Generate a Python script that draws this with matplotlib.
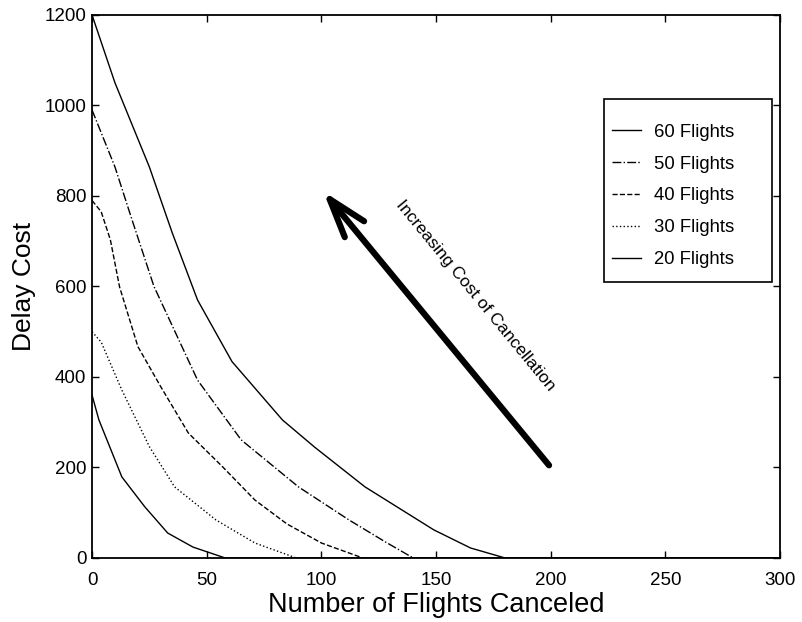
import matplotlib.pyplot as plt
from matplotlib.patches import Rectangle

plt.rcParams['font.family'] = ['Liberation Sans', 'DejaVu Sans']

# values
x60 = [0, 10, 25, 35, 46, 61, 83, 97, 119, 149, 165, 180, 300]
y60 = [1200, 1050, 864, 718, 570, 434, 305, 245, 157, 62, 22, 0, 0]

x50 = [0, 10, 17, 27, 46, 65, 90, 112, 128, 140, 300]
y50 = [990, 864, 754, 600, 393, 261, 157, 84, 35, 0, 0]

x40 = [0, 4, 8, 12, 20, 30, 42, 57, 71, 85, 100, 118, 300]
y40 = [790, 765, 703, 599, 467, 378, 276, 201, 128, 75, 33, 0, 0]

x30 = [0, 4, 13, 25, 36, 54, 71, 89, 300]
y30 = [500, 477, 371, 246, 157, 84, 33, 0, 0]

x20 = [0, 3, 13, 23, 33, 44, 58, 300]
y20 = [360, 305, 179, 113, 55, 24, 0, 0]

labels = ['60 Flights', '50 Flights', '40 Flights', '30 Flights', '20 Flights']
styles = ['-', '-.', '--', ':', '-']

fig = plt.figure(figsize=(8.03, 6.22), dpi=100)
ax = fig.add_axes([0.1146, 0.103, 0.857, 0.873])

series = [(x60, y60), (x50, y50), (x40, y40), (x30, y30), (x20, y20)]
for (xs, ys), ls, lab in zip(series, styles, labels):
    ax.plot(xs, ys, ls, color='black', lw=1.0, label=lab)

ax.set_xlim(0, 300)
ax.set_ylim(0, 1200)
ax.set_xticks([0, 50, 100, 150, 200, 250, 300])
ax.set_yticks([0, 200, 400, 600, 800, 1000, 1200])
ax.tick_params(direction='in', length=5, width=1, top=True, right=True,
               labelsize=13.5)
ax.tick_params(axis='x', pad=10)
ax.tick_params(axis='y', pad=4)
for s in ax.spines.values():
    s.set_linewidth(1.3)

ax.set_xlabel('Number of Flights Canceled', fontsize=19.5, labelpad=2)
ax.set_ylabel('Delay Cost', fontsize=19, labelpad=6)

# big arrow
ax.annotate('', xy=(100, 815), xytext=(200, 200),
            arrowprops=dict(arrowstyle='->, head_length=2.8, head_width=0.9',
                            lw=4.5, color='black'))
ax.text(167, 580, 'Increasing Cost of Cancellation', rotation=-50.6,
        ha='center', va='center', fontsize=12.5, rotation_mode='anchor')

# legend
ax.add_patch(Rectangle((0.744, 0.508), 0.2445, 0.337, transform=ax.transAxes,
                       fill=False, lw=1.2, color='black', zorder=3))
ax.legend(loc='center left', bbox_to_anchor=(0.755, 0.6667), frameon=False,
          fontsize=13.3, handlelength=1.6, handletextpad=0.7,
          labelspacing=0.8, borderpad=0, borderaxespad=0)

fig.savefig('out.png', dpi=100)
